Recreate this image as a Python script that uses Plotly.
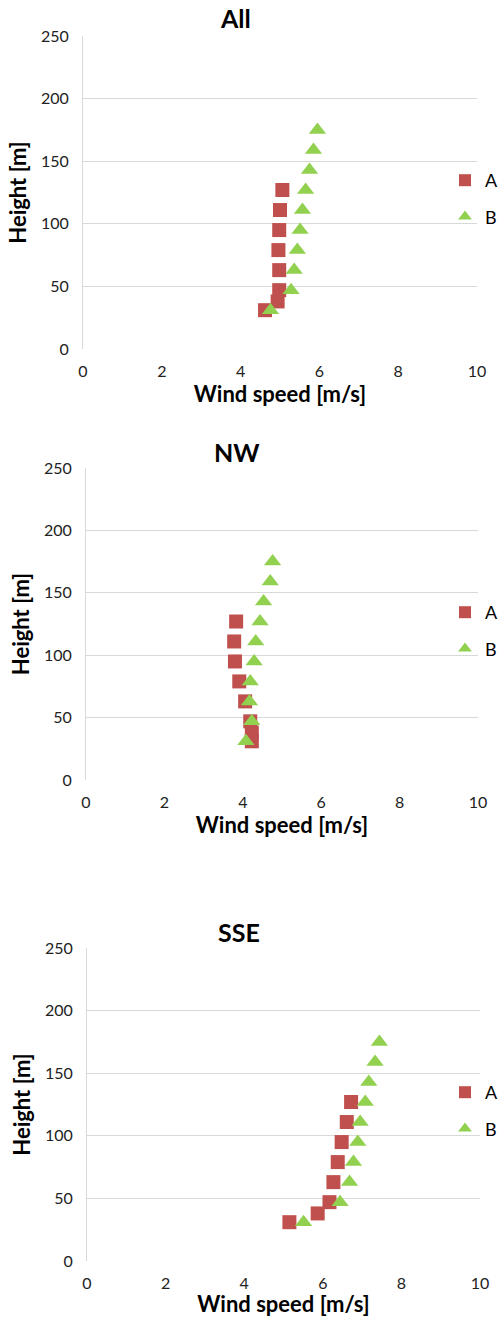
import plotly.graph_objects as go

heights_a = [31, 38, 47, 63, 79, 95, 111, 127]
heights_b = [31, 47, 63, 79, 95, 111, 127, 143, 159, 175]

panels = ["All", "NW", "SSE"]

all_a = [4.62, 4.94, 4.98, 4.98, 4.96, 4.98, 5.00, 5.06]
all_b = [4.76, 5.28, 5.36, 5.44, 5.51, 5.57, 5.65, 5.75, 5.85, 5.95]

nw_a = [4.23, 4.23, 4.19, 4.06, 3.91, 3.80, 3.78, 3.83]
nw_b = [4.08, 4.23, 4.17, 4.19, 4.29, 4.33, 4.44, 4.53, 4.70, 4.76]

sse_a = [5.15, 5.87, 6.17, 6.27, 6.38, 6.48, 6.61, 6.72]
sse_b = [5.51, 6.44, 6.68, 6.78, 6.89, 6.95, 7.08, 7.17, 7.33, 7.44]

x_ticks = [0, 2, 4, 6, 8, 10]
y_ticks = [0, 50, 100, 150, 200, 250]

W, H = 501, 1317
FONT = "Lato"
RED = "#C0504D"
GREEN = "#92D050"

# pixel layout of each panel: (x0, x1, ytop, ybottom, title_y, legend_top)
boxes = [
    (83, 477, 36, 349, 18, 162),
    (86, 478, 468, 780, 452, 594),
    (87, 480, 948, 1261, 932, 1074),
]
series = [(all_a, all_b), (nw_a, nw_b), (sse_a, sse_b)]

fig = go.Figure()
for i, (name, (xa, xb), box) in enumerate(zip(panels, series, boxes)):
    x0, x1, yt, yb, ty, lt = box
    sfx = "" if i == 0 else str(i + 1)
    leg = "legend" + sfx
    fig.add_trace(go.Scatter(
        x=xa, y=heights_a, mode="markers", name="A",
        marker=dict(symbol="square", size=14, color=RED),
        xaxis="x" + sfx, yaxis="y" + sfx, legend=leg,
        legendgroup="A" + sfx,
    ))
    fig.add_trace(go.Scatter(
        x=xb, y=heights_b, mode="markers", name="B",
        marker=dict(symbol="triangle-up", size=15, color=GREEN),
        xaxis="x" + sfx, yaxis="y" + sfx, legend=leg,
        legendgroup="B" + sfx,
    ))
    dx = [x0 / W, x1 / W]
    dy = [1 - yb / H, 1 - yt / H]
    fig.layout["xaxis" + sfx] = dict(
        domain=dx, anchor="y" + sfx, range=[0, 10], tickvals=x_ticks,
        showgrid=False, zeroline=False, showline=False, automargin=False,
        ticks="outside", ticklen=8, tickcolor="rgba(0,0,0,0)",
        tickfont=dict(family=FONT, size=16, color="#222"),
        title=dict(text="<b>Wind speed [m/s]</b>",
                   font=dict(family=FONT, size=22, color="#000"), standoff=0),
    )
    fig.layout["yaxis" + sfx] = dict(
        domain=dy, anchor="x" + sfx, range=[0, 250], tickvals=y_ticks,
        showgrid=True, gridcolor="#D9D9D9", gridwidth=1, automargin=False,
        zeroline=False, showline=True, linecolor="#D9D9D9", linewidth=1,
        ticks="outside", ticklen=10, tickcolor="rgba(0,0,0,0)",
        tickfont=dict(family=FONT, size=16, color="#222"),
        title=dict(text="<b>Height [m]</b>",
                   font=dict(family=FONT, size=22, color="#000"), standoff=8),
    )
    fig.layout[leg] = dict(
        x=445 / W, xanchor="left", y=1 - lt / H, yanchor="top",
        font=dict(family=FONT, size=18, color="#000"),
        bgcolor="rgba(0,0,0,0)", tracegroupgap=10, traceorder="grouped",
        itemsizing="constant",
    )
    fig.add_annotation(
        text="<b>" + name + "</b>", xref="paper", yref="paper",
        x=((x0 + x1) / 2 - 45) / W, y=1 - ty / H, xanchor="center",
        yanchor="middle", showarrow=False,
        font=dict(family=FONT, size=25, color="#000"),
    )

fig.update_layout(
    width=W, height=H,
    margin=dict(l=0, r=0, t=0, b=0, pad=0, autoexpand=False),
    paper_bgcolor="white", plot_bgcolor="white", showlegend=True,
)
fig.write_html("out.html")
